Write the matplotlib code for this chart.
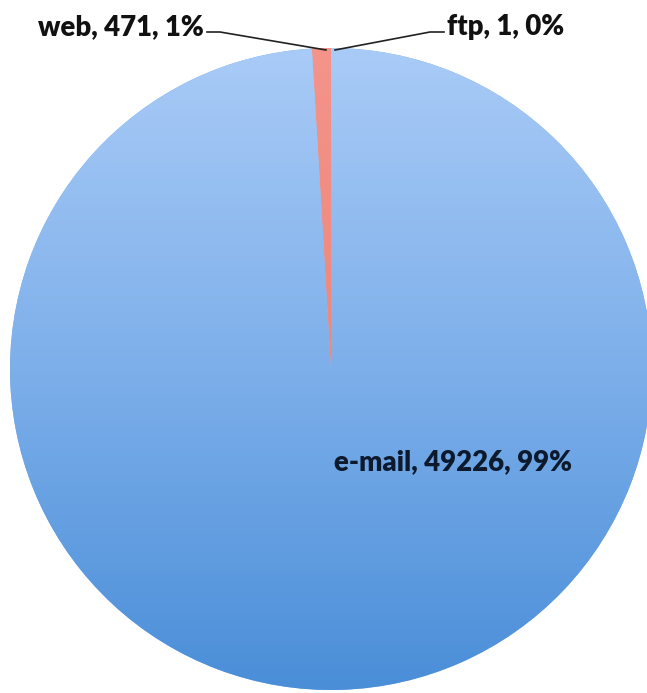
import matplotlib
matplotlib.use("Agg")
import matplotlib.pyplot as plt
import numpy as np
from matplotlib.colors import LinearSegmentedColormap

labels = ["web", "e-mail", "ftp"]
values = [471, 49226, 1]
percents = ["1%", "99%", "0%"]

W, H = 647, 693
fig = plt.figure(figsize=(W / 100, H / 100), dpi=100)
ax = fig.add_axes([0, 0, 1, 1])

cx, cy, r = 331, H - 369, 321
wedges, _ = ax.pie(values, startangle=90, counterclock=True, center=(cx, cy),
                   radius=r, colors=["#f08d80", "#7fb0ec", "#7fb0ec"],
                   frame=True)
ax.set_xlim(0, W)
ax.set_ylim(0, H)
ax.set_aspect("auto")
ax.axis("off")

blue = LinearSegmentedColormap.from_list("b", ["#4a8ed8", "#7dafea", "#a9cbf7"])
red = LinearSegmentedColormap.from_list("r", ["#e8796d", "#f4948a"])
grad = np.linspace(0, 1, 256).reshape(-1, 1)
for w, cmap in zip(wedges, [red, blue, blue]):
    im = ax.imshow(grad, cmap=cmap, origin="lower", aspect="auto",
                   extent=(cx - r, cx + r, cy - r, cy + r), zorder=2)
    im.set_clip_path(w)

fp = dict(family=["Lato", "DejaVu Sans"], fontweight="heavy", fontsize=19.8, color="#111111")
ax.text(204, H - 27, f"{labels[0]}, {values[0]}, {percents[0]}", ha="right", va="center", **fp)
ax.text(447, H - 27, f"{labels[2]}, {values[2]}, {percents[2]}", ha="left", va="center", **fp)
ax.text(334, H - 462, f"{labels[1]}, {values[1]}, {percents[1]}", ha="left", va="center",
        zorder=5, **dict(fp, color="#0d1a2e"))

ax.plot([207, 220, 326], [H - 32, H - 32, H - 50], color="#222222", lw=1.2, zorder=6)
ax.plot([444, 430, 335], [H - 32, H - 32, H - 50], color="#222222", lw=1.2, zorder=6)

fig.savefig("out.png", dpi=100)
